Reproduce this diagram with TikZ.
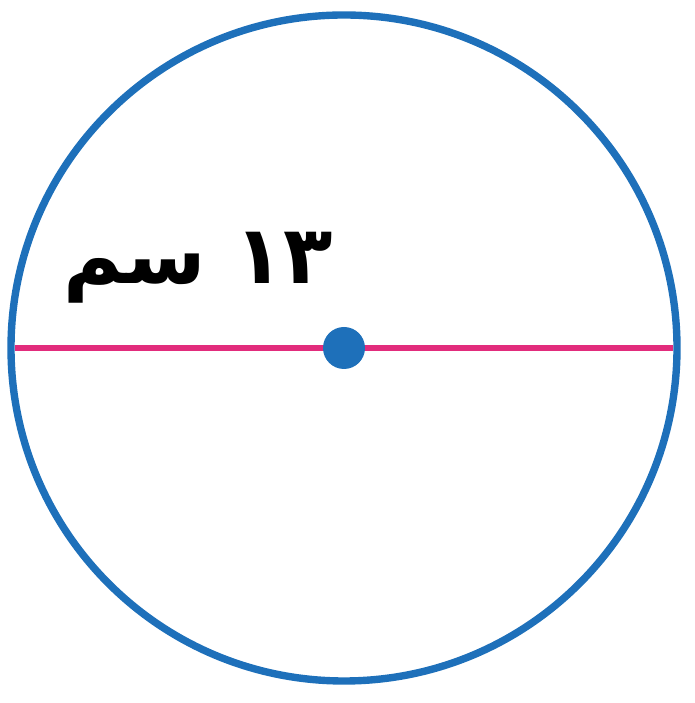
\documentclass[tikz,border=0pt]{standalone}
\usepackage{fontspec}
\newfontfamily\arabicfont[Script=Arabic]{DejaVu Sans}
\TeXXeTstate=1
\definecolor{rimblue}{RGB}{30,112,186}
\definecolor{diampink}{RGB}{226,44,124}
\tikzset{
  rim/.style={draw=rimblue,line width=4.2pt},
  diam/.style={draw=diampink,line width=3.4pt},
  lentext/.style={font=\arabicfont\bfseries\fontsize{46}{50}\selectfont,inner sep=0pt}
}
\begin{document}
\begin{tikzpicture}[scale=1.0]
\useasboundingbox (0,0) rectangle (13.88,14.06);

\coordinate (O) at (6.88,7.10);
\draw[rim] (O) circle (6.66);

\coordinate (W) at (0.30,7.10);
\coordinate (E) at (13.46,7.10);
\draw[diam] (W) -- (E);
\fill[rimblue] (O) circle (0.42);

\node[lentext] (len) at (3.96,8.70) {\beginR\beginL ١٣\endL{} سم\endR};
\end{tikzpicture}
\end{document}
